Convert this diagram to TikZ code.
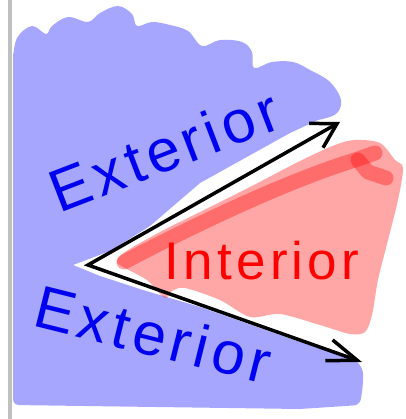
\documentclass[tikz,border=0pt]{standalone}
\usepackage{fontspec}
\setmainfont{Liberation Sans}
\usepackage{tikz}
\usetikzlibrary{arrows.meta}
\definecolor{penblue}{RGB}{0,0,240}
\definecolor{penred}{RGB}{255,0,0}
\definecolor{rulegray}{RGB}{192,192,192}
\tikzset{
  every picture/.style={line width=0.7pt},
  souter/.style={fill=blue!35},
  sinner/.style={fill=red, fill opacity=0.35},
  sstroke/.style={draw=red, draw opacity=0.35, line width=15pt,
                  line cap=round, line join=round},
  sray/.style={draw=black, line width=3.5pt, line cap=round, line join=miter},
  stipU/.tip={Straight Barb[length=24pt, width=28pt, line width=3.5pt]},
  stipL/.tip={Straight Barb[length=30pt, width=22pt, line width=3.5pt]},
  slabelout/.style={text=penblue, anchor=base, inner sep=0pt,
                    font=\fontsize{60}{60}\selectfont\addfontfeature{LetterSpace=8}},
  slabelin/.style={text=penred, anchor=base, inner sep=0pt,
                   font=\fontsize{53}{53}\selectfont\addfontfeature{LetterSpace=8}},
}

\begin{document}
\begin{tikzpicture}[x=1pt, y=-1pt]
  \useasboundingbox (0,0) rectangle (405,419);
  % margin rule on the left
  \draw[rulegray, line width=4pt] (10,0) -- (10,419);
  % exterior, scribbled in blue
  \fill[souter] plot[smooth, tension=0.6] coordinates {(13,60) (17,38)
        (32,26) (46,34) (52,26) (68,17) (88,22) (100,13) (118,6) (132,14)
        (137,26) (152,22) (170,25) (188,31) (202,46) (220,40) (242,42)
        (252,52) (254,68) (272,62) (293,62) (310,70) (330,82) (341,100)
        (336,114) (318,120)}
        -- (290,133) -- (200,183) -- (150,226) -- (110,251) -- (73,265)
        -- (100,276) -- (143,290) -- (200,307) -- (300,342) -- (355,360)
        [rounded corners=6pt] -- (363,368) -- (363,385) -- (360,405)
        -- (300,409) -- (13,405) -- cycle;
  % interior, scribbled in red
  \fill[sinner] plot[smooth cycle, tension=0.5] coordinates {(117,262)
        (125,252) (160,232) (200,212) (250,187) (300,161) (335,145)
        (355,140) (380,143) (395,160) (403,168) (398,200) (388,240)
        (378,280) (372,315) (365,332) (350,334) (320,325) (280,314)
        (250,317) (220,300) (185,288) (172,291) (166,298) (158,292)
        (147,280) (125,268)};
  \draw[sstroke] (124,262) .. controls (200,222) and (290,180) .. (355,160)
        -- (375,153);
  \draw[sstroke] (358,160) -- (368,172) -- (386,178);
  % the angle
  \coordinate (apex) at (88,265);
  \coordinate (tipU) at (340,122);
  \coordinate (tipL) at (362,362);
  \draw[sray, stipU-stipL] (tipU) -- (apex) -- (tipL);
  % labels
  \node[slabelout, rotate=21] (extU) at (172,170) {Exterior};
  \node[slabelout, rotate=-14] (extL) at (148,355) {Exterior};
  \node[slabelin] (intr) at (262,279) {Interior};
\end{tikzpicture}
\end{document}
